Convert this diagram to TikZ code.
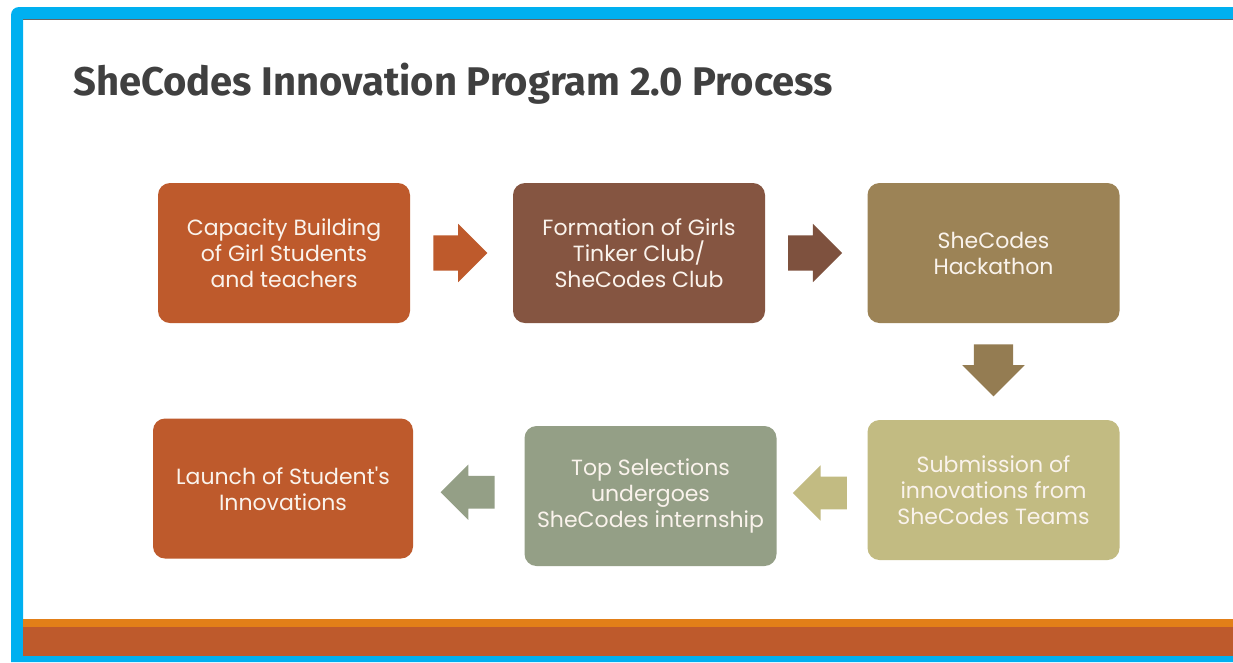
\documentclass[tikz,border=0pt]{standalone}
\usepackage{fontspec}
\usepackage{tikz}
\usetikzlibrary{shapes.arrows, calc}
\setmainfont{Poppins}
\newfontfamily\titlefont{Fira Sans}

\definecolor{frameblue}{HTML}{00B0F0}
\definecolor{titlegray}{HTML}{404040}
\definecolor{rust}{HTML}{BE5A2C}
\definecolor{bark}{HTML}{855541}
\definecolor{khaki}{HTML}{9C8356}
\definecolor{straw}{HTML}{C2BB82}
\definecolor{sage}{HTML}{949F86}
\definecolor{amber}{HTML}{E27F18}
\definecolor{boxtext}{HTML}{FAF3EC}

\tikzset{
    stepbox/.style={rounded corners=9pt, minimum width=189pt, minimum height=105pt,
        inner sep=0pt, text=boxtext, align=center, font=\fontsize{16.5}{19.5}\selectfont},
    blockarrow/.style={single arrow, inner xsep=0pt, inner ysep=13pt, minimum height=40.5pt,
        single arrow head extend=8.6pt}
}

\begin{document}
\begin{tikzpicture}[x=0.75pt, y=-0.75pt]
    \useasboundingbox (0,0) rectangle (1233,662);
    % slide frame
    \fill[white] (0,0) rectangle (1233,662);
    \fill[frameblue] (1233,7) -- (1233,19) -- (23,19) -- (23,656) -- (1233,656)
        -- (1233,662) -- (11,662) [rounded corners=6pt] -- (11,7) [sharp corners] -- cycle;
    \draw[titlegray!80, line width=1pt] (23,19.8) -- (1233,19.8);
    \fill[amber] (23,619) rectangle (1233,627);
    \fill[rust] (23,627) rectangle (1233,656);

    \node[anchor=base west, text=titlegray, inner sep=0pt,
        font=\titlefont\fontsize{30}{30}\selectfont\bfseries] (title) at (73,95)
        {SheCodes Innovation Program 2.0 Process};

    % process steps
    \node[stepbox, fill=rust] (capacity) at (284,253)
        {Capacity Building\\of Girl Students\\and teachers};
    \node[stepbox, fill=bark] (club) at (639,253)
        {Formation of Girls\\Tinker Club/\\SheCodes Club};
    \node[stepbox, fill=khaki] (hackathon) at (993.5,253)
        {SheCodes\\Hackathon};
    \node[stepbox, fill=straw] (submission) at (993.5,490)
        {Submission of\\innovations from\\SheCodes Teams};
    \node[stepbox, fill=sage] (selection) at (650.5,496)
        {Top Selections\\undergoes\\SheCodes internship};
    \node[stepbox, fill=rust, minimum width=195pt] (launch) at (283,488.5)
        {Launch of Student\textquotesingle s\\Innovations};

    % arrows between steps
    \node[blockarrow, fill=rust] (a1) at ($(capacity.east)!0.5!(club.west)+(-10,0)$) {};
    \node[blockarrow, fill=bark!95!black] (a2) at ($(club.east)!0.5!(hackathon.west)+(-10,0)$) {};
    \node[blockarrow, fill=khaki!95!black, rotate=-90, inner ysep=14.6pt, minimum height=39pt]
        (a3) at ($(hackathon.south)!0.5!(submission.north)+(0,-11)$) {};
    \node[blockarrow, fill=straw, rotate=180, inner ysep=12pt]
        (a4) at ($(submission.west)!0.5!(selection.east)+(6,0)$) {};
    \node[blockarrow, fill=sage, rotate=180, inner ysep=12pt]
        (a5) at ($(selection.west)!0.5!(launch.east)+(7,0)$) {};
\end{tikzpicture}
\end{document}
